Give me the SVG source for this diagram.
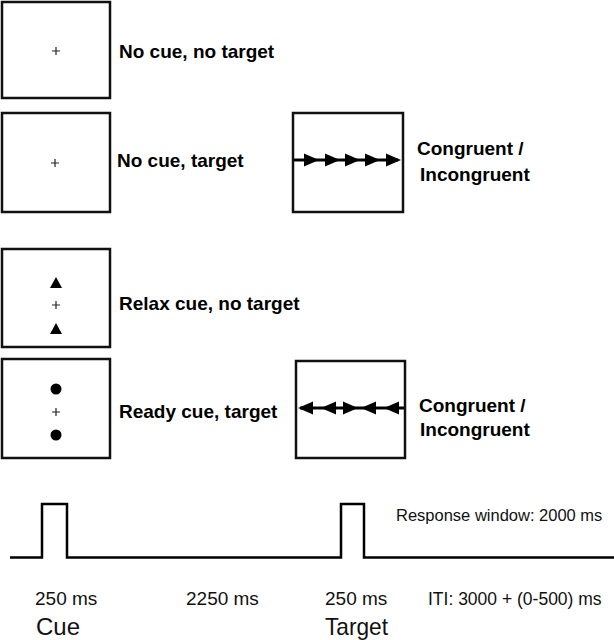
<svg xmlns="http://www.w3.org/2000/svg" width="614" height="640" viewBox="0 0 614 640">
<style>
.box{fill:#fff;stroke:#111;stroke-width:2.5}
.lbl{font-family:"Liberation Sans",Arial,sans-serif;font-weight:bold;font-size:19px;fill:#000}
.fix{stroke:#222;stroke-width:1.2}
.tl{font-family:"Liberation Sans",Arial,sans-serif;fill:#111}
.sym{fill:#000}
.arr{stroke:#000;stroke-width:3;fill:none}
</style>
<rect width="614" height="640" fill="#fff"/>
<defs>
<path id="cross" d="M-4,0 H4 M0,-4 V4" class="fix"/>
</defs>
<g id="node-nocue-notarget">
<rect class="box" x="2" y="2" width="108" height="96"/>
<use href="#cross" x="56" y="51"/>
<text class="lbl" x="119" y="58">No cue, no target</text>
</g>
<g id="node-nocue-target">
<rect class="box" x="2" y="113" width="108" height="99"/>
<use href="#cross" x="55" y="163"/>
<text class="lbl" x="117" y="167">No cue, target</text>
</g>
<g id="node-target-congruent">
<rect class="box" x="293" y="113" width="110" height="99"/>
<line class="arr" x1="294" y1="160" x2="398" y2="160"/>
<polygon class="sym" points="319,160 304,153.5 304,166.5"/>
<polygon class="sym" points="340,160 325,153.5 325,166.5"/>
<polygon class="sym" points="360,160 345,153.5 345,166.5"/>
<polygon class="sym" points="380,160 365,153.5 365,166.5"/>
<polygon class="sym" points="401,160 386,153.5 386,166.5"/>
<text class="lbl" x="417" y="155">Congruent /</text>
<text class="lbl" x="420" y="181">Incongruent</text>
</g>
<g id="node-relax-cue">
<rect class="box" x="2" y="249" width="108" height="98"/>
<polygon class="sym" points="56,277 50,288 62,288"/>
<use href="#cross" x="56" y="305"/>
<polygon class="sym" points="56,323 50,334 62,334"/>
<text class="lbl" x="119" y="310">Relax cue, no target</text>
</g>
<g id="node-ready-cue">
<rect class="box" x="2" y="359" width="108" height="99"/>
<circle class="sym" cx="56" cy="389" r="5.5"/>
<use href="#cross" x="56" y="412"/>
<circle class="sym" cx="56" cy="435" r="5.5"/>
<text class="lbl" x="119" y="418">Ready cue, target</text>
</g>
<g id="node-target-incongruent">
<rect class="box" x="296" y="361" width="109" height="97"/>
<line class="arr" x1="300" y1="408" x2="404" y2="408"/>
<polygon class="sym" points="298,408 313,401.5 313,414.5"/>
<polygon class="sym" points="321,408 336,401.5 336,414.5"/>
<polygon class="sym" points="358,408 343,401.5 343,414.5"/>
<polygon class="sym" points="361,408 376,401.5 376,414.5"/>
<polygon class="sym" points="384,408 399,401.5 399,414.5"/>
<text class="lbl" x="419" y="412">Congruent /</text>
<text class="lbl" x="420" y="436">Incongruent</text>
</g>
<g id="connectors">
<path d="M10,557.5 H42 V504 H67 V557.5 H341 V504 H364 V557.5 H614" fill="none" stroke="#000" stroke-width="2.5"/>
</g>
<g id="timeline-labels">
<text class="tl" x="396" y="521" font-size="16.5">Response window: 2000 ms</text>
<text class="tl" x="35" y="605" font-size="19">250 ms</text>
<text class="tl" x="186" y="605" font-size="19">2250 ms</text>
<text class="tl" x="325" y="605" font-size="19">250 ms</text>
<text class="tl" x="428" y="605" font-size="17.5">ITI: 3000 + (0-500) ms</text>
<text class="tl" x="36" y="635" font-size="24">Cue</text>
<text class="tl" x="325" y="635" font-size="24" textLength="63" lengthAdjust="spacingAndGlyphs">Target</text>
</g>
</svg>
